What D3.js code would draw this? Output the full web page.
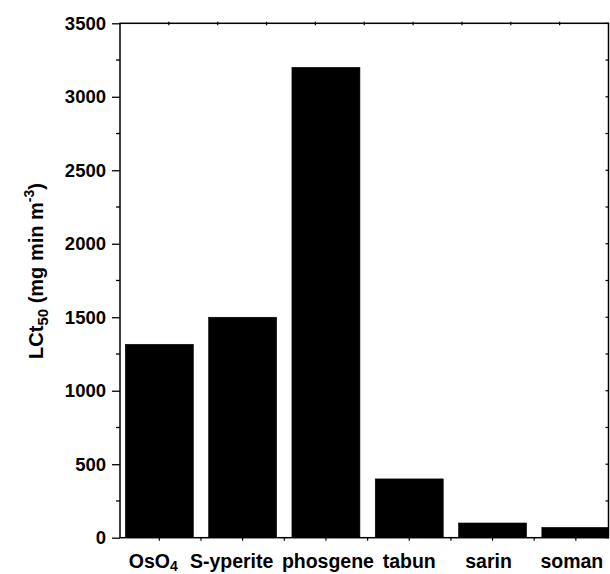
<!DOCTYPE html>
<html>
<head>
<meta charset="utf-8">
<script src="https://cdn.jsdelivr.net/npm/d3@7"></script>
<style>
  body { margin: 0; background: #fff; }
  text { font-family: "Liberation Sans", Arial, sans-serif; font-weight: bold; fill: #000; }
</style>
</head>
<body>
<div id="chart"></div>
<script>
// data
const agents = ["OsO4", "S-yperite", "phosgene", "tabun", "sarin", "soman"];
const lct50 = [1316, 1500, 3200, 400, 100, 70];
const yTicks = [0, 500, 1000, 1500, 2000, 2500, 3000, 3500];

const width = 610, height = 574;
const plotL = 120, plotR = 608.5, plotT = 23.3, plotB = 537.7;

const svg = d3.select("#chart").append("svg")
  .attr("width", width)
  .attr("height", height);

// category positions on a numeric axis (1..6)
const x = d3.scaleLinear().domain([0.528, 6.392]).range([plotL, plotR]);
const y = d3.scaleLinear().domain([0, 3500]).range([plotB, plotT]);
const barW = 0.816;

svg.append("defs").append("clipPath").attr("id", "plot")
  .append("rect")
  .attr("x", plotL).attr("y", plotT)
  .attr("width", plotR - plotL).attr("height", plotB - plotT);

svg.append("g")
  .attr("clip-path", "url(#plot)")
  .selectAll("rect")
  .data(lct50)
  .join("rect")
  .attr("x", (d, i) => x(i + 1 - barW / 2))
  .attr("width", (d, i) => x(i + 1 + barW / 2) - x(i + 1 - barW / 2))
  .attr("y", d => y(d))
  .attr("height", d => y(0) - y(d))
  .attr("fill", "#000")
  .attr("stroke", "#000")
  .attr("stroke-width", 0.6);

// left axis
const yAxis = svg.append("g")
  .attr("transform", `translate(${plotL},0)`)
  .call(d3.axisLeft(y).tickValues(yTicks).tickSize(8).tickPadding(6).tickFormat(d3.format("d")));
yAxis.select(".domain").remove();
yAxis.selectAll("text").style("font-size", "18.5px");
yAxis.selectAll("line").attr("stroke-width", 1.3);

const yMinor = d3.range(250, 3500, 500);
svg.append("g").selectAll("line")
  .data(yMinor)
  .join("line")
  .attr("x1", plotL - 4).attr("x2", plotL)
  .attr("y1", d => y(d)).attr("y2", d => y(d))
  .attr("stroke", "#000").attr("stroke-width", 1.3);

// right axis (inward ticks)
svg.append("g").selectAll("line")
  .data(d3.range(0, 3501, 250))
  .join("line")
  .attr("x1", plotR - 3).attr("x2", plotR)
  .attr("y1", d => y(d)).attr("y2", d => y(d))
  .attr("stroke", "#000").attr("stroke-width", 1.2);

// bottom ticks
const xTickVals = d3.range(1, 6.01, 0.5);
svg.append("g").selectAll("line")
  .data(xTickVals)
  .join("line")
  .attr("x1", d => x(d)).attr("x2", d => x(d))
  .attr("y1", plotB).attr("y2", plotB + 3)
  .attr("stroke", "#000").attr("stroke-width", 1.2);

// top ticks
const xTop = d3.scaleLinear().domain([0, 10]).range([plotL, plotR]);
svg.append("g").selectAll("line")
  .data(d3.range(1, 10))
  .join("line")
  .attr("x1", d => xTop(d)).attr("x2", d => xTop(d))
  .attr("y1", plotT - 1.5).attr("y2", plotT + 2)
  .attr("stroke", "#000").attr("stroke-width", 1.2);

// frame
svg.append("rect")
  .attr("x", plotL).attr("y", plotT)
  .attr("width", plotR - plotL).attr("height", plotB - plotT)
  .attr("fill", "none").attr("stroke", "#000").attr("stroke-width", 1.5);

// category labels (hand-nudged like the original)
const labelNudge = [-6, -11, 2, 0, -4, -4];
const labels = svg.append("g").selectAll("text")
  .data(agents)
  .join("text")
  .attr("x", (d, i) => x(i + 1) + labelNudge[i])
  .attr("y", 568)
  .attr("text-anchor", "middle")
  .style("font-size", "19.5px");
labels.each(function(d) {
  const t = d3.select(this);
  const m = d.match(/^([A-Za-z]+?)(\d+)$/);
  if (m) {
    t.append("tspan").text(m[1]);
    t.append("tspan").attr("dy", 3).style("font-size", "14px").text(m[2]);
  } else {
    t.text(d);
  }
});

// y title
const title = svg.append("text")
  .attr("transform", `translate(43,271) rotate(-90)`)
  .attr("text-anchor", "middle")
  .style("font-size", "20px");
title.append("tspan").text("LCt");
title.append("tspan").attr("dy", 5).style("font-size", "15px").text("50");
title.append("tspan").attr("dy", -5).text(" (mg min m");
title.append("tspan").attr("dy", -9).style("font-size", "14px").text("-3");
title.append("tspan").attr("dy", 9).text(")");
</script>
</body>
</html>
